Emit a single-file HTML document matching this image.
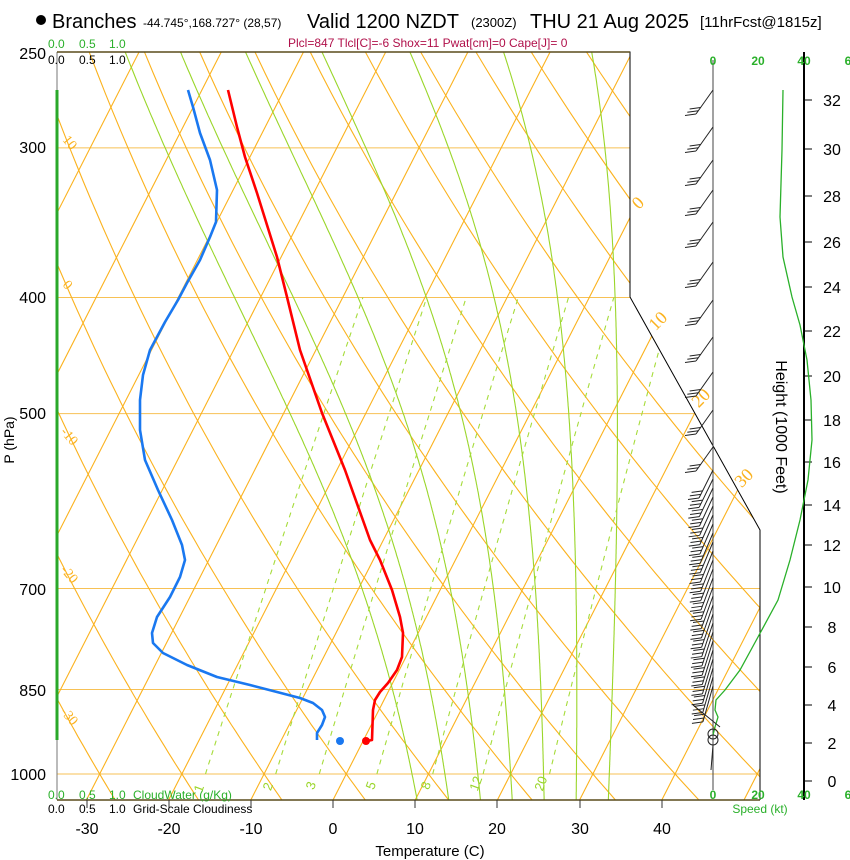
<!DOCTYPE html>
<html><head><meta charset="utf-8"><style>
html,body{margin:0;padding:0;background:#fff;}
svg{display:block;font-family:"Liberation Sans",sans-serif;}
</style></head><body>
<svg id="s" xmlns="http://www.w3.org/2000/svg" width="850" height="860" viewBox="0 0 850 860">
<defs><clipPath id="cp"><polygon points="57,52 630,52 630,297 760,530 760,800 57,800"/></clipPath></defs>
<g id="grid" clip-path="url(#cp)"></g>
<g id="fg"></g>
<circle cx="41" cy="20" r="5" fill="#000"/>
<text x="52" y="28" font-size="20">Branches</text>
<text x="143" y="27" font-size="12">-44.745°,168.727° (28,57)</text>
<text x="307" y="28" font-size="20">Valid 1200 NZDT</text>
<text x="471" y="27" font-size="13">(2300Z)</text>
<text x="530" y="28" font-size="20">THU 21 Aug 2025</text>
<text x="700" y="27" font-size="15">[11hrFcst@1815z]</text>
<text x="288" y="47" font-size="12" fill="#b0104a">Plcl=847 Tlcl[C]=-6 Shox=11 Pwat[cm]=0 Cape[J]= 0</text>
<g font-size="12" fill="#2ab02a"><text x="48" y="48">0.0</text><text x="79" y="48">0.5</text><text x="109" y="48">1.0</text></g>
<g font-size="12" fill="#000"><text x="48" y="64">0.0</text><text x="79" y="64">0.5</text><text x="109" y="64">1.0</text></g>
<g font-size="12" fill="#2ab02a"><text x="48" y="799">0.0</text><text x="79" y="799">0.5</text><text x="109" y="799">1.0</text><text x="133" y="799">CloudWater (g/Kg)</text></g>
<g font-size="12" fill="#000"><text x="48" y="813">0.0</text><text x="79" y="813">0.5</text><text x="109" y="813">1.0</text><text x="133" y="813">Grid-Scale Cloudiness</text></g>
<g font-size="16" text-anchor="end"><text x="46" y="59">250</text><text x="46" y="153">300</text><text x="46" y="303">400</text><text x="46" y="419">500</text><text x="46" y="595">700</text><text x="46" y="696">850</text><text x="46" y="780">1000</text></g>
<text transform="translate(14,440) rotate(-90)" font-size="14" text-anchor="middle">P (hPa)</text>
<g font-size="16" text-anchor="middle"><text x="87" y="834">-30</text><text x="169" y="834">-20</text><text x="251" y="834">-10</text><text x="333" y="834">0</text><text x="415" y="834">10</text><text x="497" y="834">20</text><text x="580" y="834">30</text><text x="662" y="834">40</text></g>
<text x="430" y="856" font-size="15" text-anchor="middle">Temperature (C)</text>
<text transform="translate(776,427) rotate(90)" font-size="16" text-anchor="middle">Height (1000 Feet)</text>
<g font-size="12" fill="#2ab02a" font-weight="bold" text-anchor="middle"><text x="713" y="65">0</text><text x="758" y="65">20</text><text x="804" y="65">40</text><text x="848" y="65">6</text>
<text x="713" y="799">0</text><text x="758" y="799">20</text><text x="804" y="799">40</text><text x="848" y="799">6</text></g>
<text x="760" y="813" font-size="12" fill="#2ab02a" text-anchor="middle">Speed (kt)</text>
</svg>
<script>
var NS="http://www.w3.org/2000/svg";
var G=document.getElementById('grid'),F=document.getElementById('fg');
function el(p,t,a,txt){var e=document.createElementNS(NS,t);for(var k in a)e.setAttribute(k,a[k]);if(txt!=null)e.textContent=txt;p.appendChild(e);return e;}
function Y(p){return 774-520*Math.log(1000/p);}
function X(T,p){return 333+8.22*T+0.51*(800-Y(p));}
function poly(par,pts,a){a.points=pts.map(function(q){return q[0].toFixed(1)+','+q[1].toFixed(1)}).join(' ');a.fill='none';return el(par,'polyline',a);}
var OR='#fbb21e';
[[300,630],[400,630],[500,700],[700,760],[850,760],[1000,760]].forEach(function(a){el(G,'line',{x1:57,x2:a[1],y1:Y(a[0]),y2:Y(a[0]),stroke:'#f7c155','stroke-width':1});});
for(var T=-120;T<=50;T+=10){el(G,'line',{x1:333+8.22*T,y1:800,x2:333+8.22*T+0.51*800,y2:0,stroke:OR,'stroke-width':1.1});}
for(var th=-40;th<=160;th+=10){var pts=[];for(var p=1060;p>=240;p-=10){var t=(th+273.15)*Math.pow(p/1000,0.286)-273.15;pts.push([X(t,p),Y(p)]);}poly(G,pts,{stroke:OR,'stroke-width':1.1});}
function es(Tc){return 6.112*Math.exp(17.67*Tc/(Tc+243.5));}
function dTdp(T,p){var e=es(T-273.15),rs=0.622*e/(p-e);return (287*T+2.5e6*rs)/(p*(1004+2.5e6*2.5e6*rs*0.622/(287*T*T)));}
for(var w=8;w<=32;w+=4){var up=[],T=w+273.15,p=1000;while(p>=240){up.push([X(T-273.15,p),Y(p)]);T-=dTdp(T,p)*2;p-=2;}
var dn=[];T=w+273.15;p=1000;while(p<=1060){dn.unshift([X(T-273.15,p),Y(p)]);T+=dTdp(T,p)*2;p+=2;}
poly(G,dn.concat(up),{stroke:'#9ad62a','stroke-width':1.1});}
[1,2,3,5,8,12,20].forEach(function(w){var pts=[];for(var p=1000;p>=400;p-=10){var e=w*p/(622+w),l=Math.log(e/6.112),td=243.5*l/(17.67-l);pts.push([X(td,p),Y(p)]);}poly(G,pts,{stroke:'#a6dc3a','stroke-width':1.1,'stroke-dasharray':'5,5'});});
el(F,'line',{x1:57,y1:52,x2:57,y2:800,stroke:'#777','stroke-width':1});
el(F,'line',{x1:57,y1:90,x2:57,y2:740,stroke:'#2aa82a','stroke-width':3});
el(F,'polyline',{points:'57,52 630,52 630,297 760,530 760,800',fill:'none',stroke:'#000','stroke-width':1});
el(F,'line',{x1:57,y1:52,x2:630,y2:52,stroke:'#5a4b1b','stroke-width':1.5});
el(F,'line',{x1:57,y1:800,x2:760,y2:800,stroke:'#5a4b1b','stroke-width':1.5});
[87,169,251,333,415,497,580,662].forEach(function(x){el(F,'line',{x1:x,x2:x,y1:800,y2:808,stroke:'#333'});});
function lab(x,y,r,t){el(F,'text',{transform:'translate('+x+','+y+') rotate('+r+')','font-size':18,fill:'#fbb21e','font-family':'Liberation Serif, serif','text-anchor':'middle'},t);}
lab(642,207,-45,'0');lab(662,325,-45,'10');lab(705,402,-45,'20');lab(748,482,-45,'30');
[[62,140,'10'],[62,285,'0'],[60,432,'-10'],[60,570,'-20'],[60,712,'-30']].forEach(function(a){el(F,'text',{transform:'translate('+a[0]+','+a[1]+') rotate(50)','font-size':14,fill:'#fbb21e','font-family':'Liberation Serif, serif'},a[2]);});
[[203,790,'1'],[272,788,'2'],[315,787,'3'],[375,787,'5'],[430,787,'8'],[480,785,'12'],[545,785,'20']].forEach(function(a){el(F,'text',{transform:'translate('+a[0]+','+a[1]+') rotate(-70)','font-size':13,fill:'#9ad62a','text-anchor':'middle'},a[2]);});
var red=[[228,90],[237,127],[245,157],[257,193],[277,257],[287,297],[300,350],[322,413],[345,470],[370,540],[380,560],[392,590],[400,617],[403,633],[402,657],[397,670],[388,683],[380,692],[375,700],[373,710],[372,740],[367,741]];
poly(F,red,{stroke:'#ff0000','stroke-width':2.6,'stroke-linejoin':'round'});
el(F,'circle',{cx:366,cy:741,r:4,fill:'#ff0000'});
var blu=[[188,90],[193,107],[200,133],[210,160],[217,190],[216,222],[210,237],[200,260],[187,283],[178,300],[165,322],[150,350],[143,375],[140,400],[140,430],[145,460],[158,490],[172,520],[182,545],[185,560],[180,577],[170,597],[157,617],[152,633],[153,643],[163,653],[187,665],[217,677],[250,685],[277,692],[300,698],[313,703],[322,710],[325,717],[322,725],[317,733],[317,740]];
poly(F,blu,{stroke:'#1a78f0','stroke-width':2.6,'stroke-linejoin':'round'});
el(F,'circle',{cx:340,cy:741,r:4,fill:'#1a78f0'});
el(F,'line',{x1:713,y1:60,x2:713,y2:790,stroke:'#444','stroke-width':1});
el(F,'line',{x1:804,y1:52,x2:804,y2:800,stroke:'#000','stroke-width':2});
[[0,781],[2,743],[4,705],[6,667],[8,627],[10,587],[12,545],[14,505],[16,462],[18,420],[20,376],[22,331],[24,287],[26,242],[28,196],[30,149],[32,100]].forEach(function(a){el(F,'line',{x1:804,x2:812,y1:a[1],y2:a[1],stroke:'#000'});el(F,'text',{x:832,y:a[1]+6,'font-size':16,'text-anchor':'middle'},String(a[0]));});
var spd=[[783,90],[782,150],[780,217],[783,257],[792,297],[800,325],[807,360],[811,400],[812,440],[808,480],[800,520],[790,560],[778,600],[758,637],[740,670],[725,690],[716,700],[715,710],[718,717],[715,727],[713,735]];
poly(F,spd,{stroke:'#2ab02a','stroke-width':1.3});
function barb(y,dx,dy,n){var x0=713,x1=x0+dx,y1=y+dy;el(F,'line',{x1:x0,y1:y,x2:x1,y2:y1,stroke:'#222','stroke-width':1});var L=Math.sqrt(dx*dx+dy*dy);for(var i=0;i<n;i++){var f=(L-i*4)/L,bx=x0+dx*f,by=y+dy*f;el(F,'line',{x1:bx,y1:by,x2:bx-11,y2:by+1.5,stroke:'#222','stroke-width':1});}}
[90,127,160,190,222,262,300,337,372,410,447].forEach(function(y){barb(y,-17,24,3);});
for(var y=470;y<=690;y+=9){var k=(y-470)/220;barb(y,-14+4*k,28+8*k,3);}
el(F,'line',{x1:693,y1:705,x2:720,y2:727,stroke:'#222'});
el(F,'circle',{cx:713,cy:734,r:5,fill:'none',stroke:'#222'});
el(F,'circle',{cx:713,cy:740,r:5,fill:'none',stroke:'#222'});
el(F,'line',{x1:713,y1:745,x2:711,y2:770,stroke:'#222'});
</script>
</body></html>
